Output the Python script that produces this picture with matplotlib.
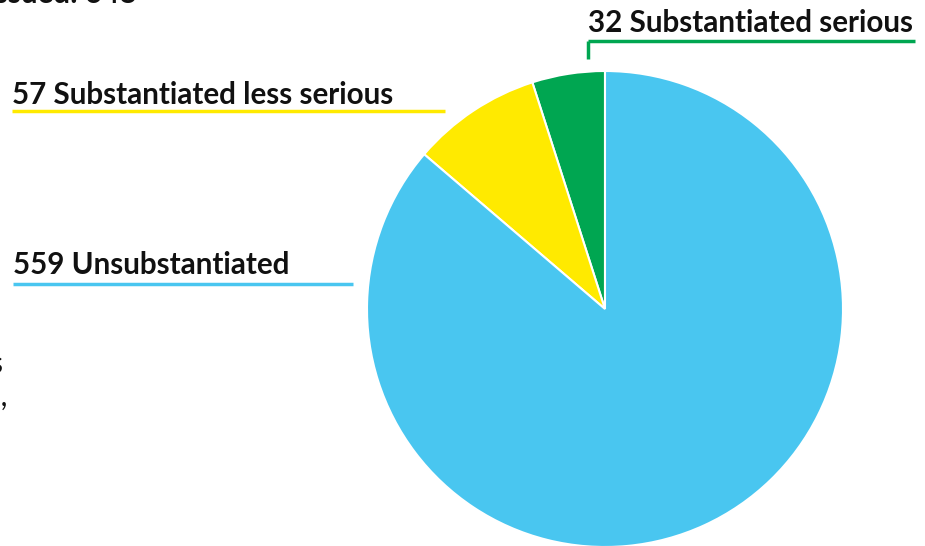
import matplotlib
matplotlib.use("Agg")
import matplotlib.pyplot as plt

# data
labels = ["Substantiated serious", "Substantiated less serious", "Unsubstantiated"]
counts = [32, 57, 559]
colors = ["#00A651", "#FFEA00", "#49C6F0"]

W, H = 925, 546
fig = plt.figure(figsize=(W / 100, H / 100), dpi=100)
ax = fig.add_axes([0, 0, 1, 1])

# pie in pixel coords (y down), visually counter-clockwise from 12 o'clock
ax.pie(counts, colors=colors, startangle=-90, counterclock=False,
       center=(605, 309), radius=238,
       wedgeprops=dict(edgecolor="white", linewidth=1.5))
ax.set_xlim(0, W)
ax.set_ylim(H, 0)
ax.set_aspect("auto")
ax.axis("off")

font = dict(family=["Lato", "DejaVu Sans"], fontweight="bold", fontsize=21.3, color="#111111")

# labels with leader lines
ax.text(588, 32, f"{counts[0]} {labels[0]}", ha="left", va="baseline", **font)
ax.plot([588, 915], [41, 41], color=colors[0], lw=2.5, solid_capstyle="butt")
ax.plot([588, 588], [41, 59], color=colors[0], lw=2.5, solid_capstyle="butt")

ax.text(12, 104, f"{counts[1]} {labels[1]}", ha="left", va="baseline", **font)
ax.plot([12, 445], [111, 111], color=colors[1], lw=2.5, solid_capstyle="butt")

ax.text(13, 274, f"{counts[2]} {labels[2]}", ha="left", va="baseline", **font)
ax.plot([13, 353], [284, 284], color=colors[2], lw=2.5, solid_capstyle="butt")

# clipped fragments of surrounding text (cut off at the edge as in the source)
ax.text(136, 3, "Total issued: 648", ha="right", va="baseline", **font)
ax.text(4, 373, "cases", ha="right", va="baseline", family=["Lato", "DejaVu Sans"],
        fontsize=21.3, color="#111111")
ax.text(8, 406, "period,", ha="right", va="baseline", family=["Lato", "DejaVu Sans"],
        fontsize=21.3, color="#111111")

fig.savefig("out.png", dpi=100)
